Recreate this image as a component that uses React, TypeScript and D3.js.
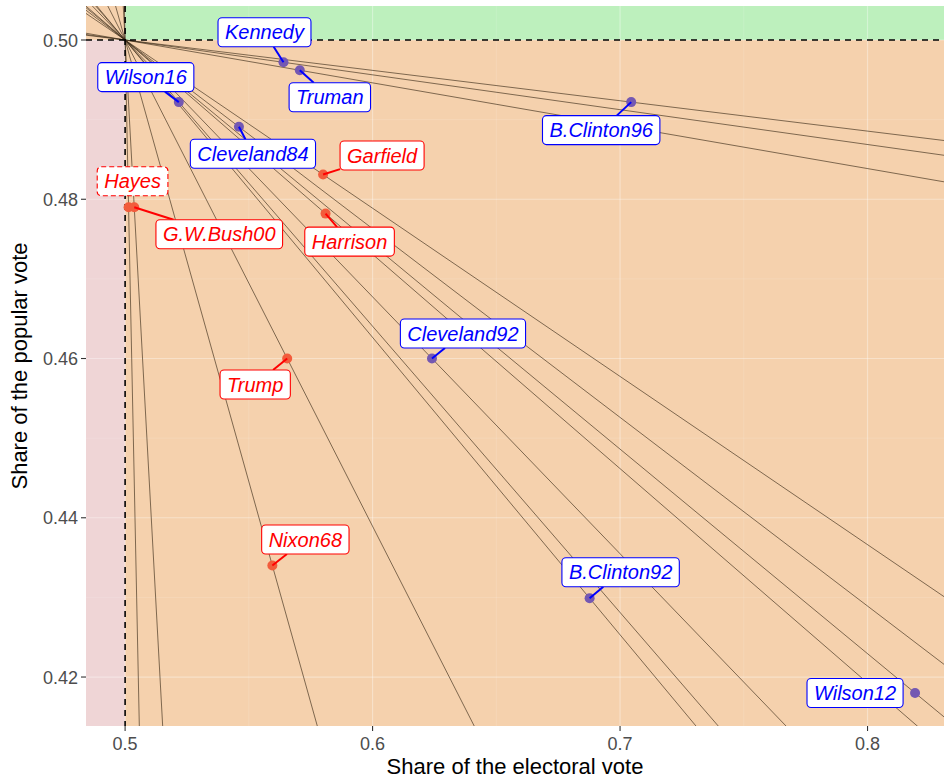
import React from 'react';
import * as d3 from 'd3';

// presidents, electoral share, popular share, party
const names = ['Kennedy', 'Truman', 'B.Clinton96', 'Wilson16', 'Cleveland84', 'Garfield', 'Hayes',
  'G.W.Bush00', 'Harrison', 'Cleveland92', 'Trump', 'Nixon68', 'B.Clinton92', 'Wilson12'];
const electoral = [0.564, 0.5706, 0.7045, 0.5217, 0.546, 0.580, 0.5014, 0.5037, 0.581, 0.624, 0.5655, 0.5595, 0.6877, 0.8192];
const popular = [0.4972, 0.4962, 0.4922, 0.4922, 0.4891, 0.4831, 0.4790, 0.4790, 0.4782, 0.4600, 0.4600, 0.4340, 0.4299, 0.4180];
const party = ['D', 'D', 'D', 'D', 'D', 'R', 'R', 'R', 'R', 'D', 'R', 'R', 'D', 'D'];

const xTicks = [0.5, 0.6, 0.7, 0.8];
const xMinor = [0.55, 0.65, 0.75];
const yTicks = [0.42, 0.44, 0.46, 0.48, 0.50];
const yMinor = [0.41, 0.43, 0.45, 0.47, 0.49];

// label box offsets from the point (px), as placed by the repel layout
const labelDx = [-19, 30, -30, -33, 14, 59, 4, 85, 24, 31, -32, 33, 31, -60];
const labelDy = [-30, 27, 28, -25, 27, -19, -26, 27, 28, -25, 26, -26, -26, 0];

const W = 944, H = 778;
const L = 86, R = 944, T = 6, B = 726;

const x = d3.scaleLinear().domain([0.4842, 0.8309]).range([L, R]);
const y = d3.scaleLinear().domain([0.41385, 0.50427]).range([B, T]);

const labelFont = 'italic 20px "Liberation Sans", Arial, sans-serif';
function textWidth(s: string) {
  const c = document.createElement('canvas').getContext('2d');
  if (!c) return s.length * 10;
  c.font = labelFont;
  return c.measureText(s).width;
}

export default function App() {
  const x0 = x.domain()[0], x1 = x.domain()[1];
  const line = d3.line<[number, number]>().x(d => x(d[0])).y(d => y(d[1]));

  return (
    <svg width={W} height={H} style={{ position: 'absolute', left: 0, top: 0, fontFamily: '"Liberation Sans", Arial, sans-serif' }}>
      <defs>
        <clipPath id="panel"><rect x={L} y={T} width={R - L} height={B - T} /></clipPath>
      </defs>
      <rect x={0} y={0} width={W} height={H} fill="#fff" />
      <g clipPath="url(#panel)">
        <rect x={L} y={T} width={R - L} height={B - T} fill="#f5d1ad" />
        <rect x={L} y={y(0.5)} width={x(0.5) - L} height={B - y(0.5)} fill="#efd5d6" />
        <rect x={x(0.5)} y={T} width={R - x(0.5)} height={y(0.5) - T} fill="#bdf0bd" />
        {xMinor.map(v => <line key={'xm' + v} x1={x(v)} x2={x(v)} y1={T} y2={B} stroke="#fff" strokeOpacity={0.22} strokeWidth={0.6} />)}
        {yMinor.map(v => <line key={'ym' + v} y1={y(v)} y2={y(v)} x1={L} x2={R} stroke="#fff" strokeOpacity={0.22} strokeWidth={0.6} />)}
        {xTicks.map(v => <line key={'xg' + v} x1={x(v)} x2={x(v)} y1={T} y2={B} stroke="#fff" strokeOpacity={0.35} strokeWidth={1.2} />)}
        {yTicks.map(v => <line key={'yg' + v} y1={y(v)} y2={y(v)} x1={L} x2={R} stroke="#fff" strokeOpacity={0.35} strokeWidth={1.2} />)}
        {names.map((n, i) => {
          const s = (popular[i] - 0.5) / (electoral[i] - 0.5);
          const pts: [number, number][] = [[x0, 0.5 + s * (x0 - 0.5)], [x1, 0.5 + s * (x1 - 0.5)]];
          return <path key={'ab' + n} d={line(pts) || ''} stroke="#3a2a18" strokeOpacity={0.8} strokeWidth={0.8} fill="none" />;
        })}
        <line x1={x(0.5)} x2={x(0.5)} y1={T} y2={B} stroke="#000" strokeWidth={1.6} strokeDasharray="6,5" />
        <line x1={L} x2={R} y1={y(0.5)} y2={y(0.5)} stroke="#000" strokeWidth={1.6} strokeDasharray="6,5" />
        {names.map((n, i) => (
          <circle key={'pt' + n} cx={x(electoral[i])} cy={y(popular[i])} r={5}
            fill={party[i] === 'D' ? '#7458b2' : '#f25c3c'} />
        ))}
        {names.map((n, i) => {
          const px = x(electoral[i]), py = y(popular[i]);
          const cx = px + labelDx[i], cy = py + labelDy[i];
          const tw = textWidth(n);
          const bw = tw + 14, bh = 29;
          const col = party[i] === 'D' ? '#0000ff' : '#ff0000';
          const dx = px - cx, dy = py - cy;
          const sc = Math.min(bw / 2 / Math.max(Math.abs(dx), 1e-6), bh / 2 / Math.max(Math.abs(dy), 1e-6));
          const ex = cx + dx * sc, ey = cy + dy * sc;
          const segLen = Math.hypot(px - ex, py - ey);
          return (
            <g key={'lb' + n}>
              {sc < 1 && segLen > 12 && <line x1={px} y1={py} x2={ex} y2={ey} stroke={col} strokeWidth={2} />}
              <rect x={cx - bw / 2} y={cy - bh / 2} width={bw} height={bh} rx={4} ry={4}
                fill="#fff" stroke={col} strokeWidth={1.1}
                strokeDasharray={n === 'Hayes' ? '5,3' : undefined} />
              <text x={cx} y={cy + 7} textAnchor="middle" fill={col}
                style={{ font: labelFont }}>{n}</text>
            </g>
          );
        })}
      </g>
      {xTicks.map(v => (
        <g key={'xt' + v}>
          <line x1={x(v)} x2={x(v)} y1={B} y2={B + 5} stroke="#333" strokeWidth={1.1} />
          <text x={x(v)} y={B + 24} textAnchor="middle" fontSize={18} fill="#4d4d4d">{d3.format('.1f')(v)}</text>
        </g>
      ))}
      {yTicks.map(v => (
        <g key={'yt' + v}>
          <line x1={L - 5} x2={L} y1={y(v)} y2={y(v)} stroke="#333" strokeWidth={1.1} />
          <text x={L - 8} y={y(v) + 6.5} textAnchor="end" fontSize={18} fill="#4d4d4d">{d3.format('.2f')(v)}</text>
        </g>
      ))}
      <text x={(L + R) / 2} y={774} textAnchor="middle" fontSize={22} fill="#000">Share of the electoral vote</text>
      <text transform={`translate(27,${(T + B) / 2}) rotate(-90)`} textAnchor="middle" fontSize={22} fill="#000">Share of the popular vote</text>
    </svg>
  );
}
